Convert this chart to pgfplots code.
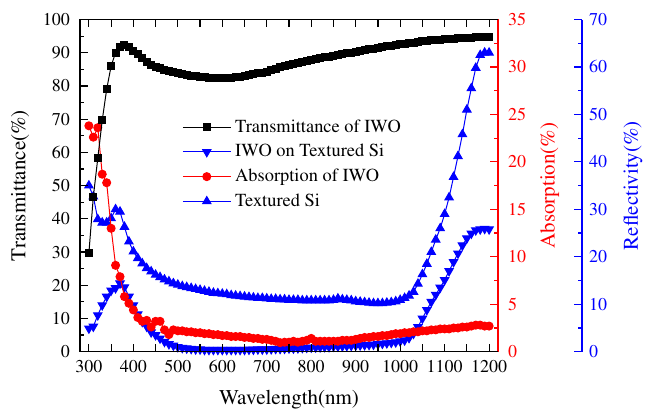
\documentclass[border=0pt]{standalone}
\usepackage[T1]{fontenc}
\usepackage{mathptmx}
\usepackage{pgfplots}
\usepackage{pgfplotstable}
\pgfplotsset{compat=1.18}

% wl: wavelength (nm), T: transmittance of IWO (%), A: absorption of IWO (%)
% Rc: reflectivity of IWO on textured Si (%), Rs: reflectivity of textured Si (%)
\pgfplotstableread{
wl    T     A     Rc    Rs
300   29.7  23.8  4.9   35.0
310   46.7  22.6  5.3   32.7
320   58.2  23.6  7.7   27.9
330   69.7  18.7  9.8   27.2
340   79.0  17.8  11.6  27.2
350   86.0  13.0  12.9  28.1
360   90.0  9.1   13.4  30.0
370   91.8  7.9   14.4  29.5
380   92.2  5.8   13.6  26.3
390   91.6  5.1   11.6  23.2
400   90.6  4.4   9.8   21.1
410   89.5  3.6   7.9   19.7
420   88.3  3.2   6.3   18.6
430   87.3  3.3   5.3   17.6
440   86.4  2.6   4.1   16.9
450   85.8  3.2   3.5   16.2
460   85.3  3.2   2.8   15.7
470   84.9  2.3   2.1   15.2
480   84.6  1.8   1.6   14.8
490   84.3  2.3   1.3   14.4
500   84.0  2.2   1.0   14.1
510   83.7  2.2   0.8   13.8
520   83.4  2.1   0.7   13.6
530   83.1  2.1   0.6   13.4
540   82.9  2.0   0.5   13.2
550   82.7  2.0   0.5   13.0
560   82.6  1.9   0.4   12.8
570   82.5  1.9   0.4   12.6
580   82.4  1.8   0.4   12.4
590   82.4  1.8   0.4   12.3
600   82.4  1.7   0.4   12.2
610   82.4  1.7   0.4   12.1
620   82.5  1.6   0.4   11.9
630   82.6  1.6   0.4   11.8
640   82.8  1.6   0.4   11.7
650   83.0  1.5   0.4   11.6
660   83.2  1.5   0.45  11.5
670   83.5  1.4   0.45  11.4
680   83.8  1.4   0.5   11.3
690   84.0  1.3   0.5   11.3
700   84.3  1.3   0.5   11.2
710   84.8  1.2   0.55  11.1
720   85.2  1.1   0.6   11.1
730   85.6  0.95  0.6   11.0
740   86.0  1.0   0.65  11.0
750   86.4  1.0   0.7   10.9
760   86.7  1.1   0.7   10.9
770   87.0  1.0   0.75  10.9
780   87.3  1.1   0.8   10.8
790   87.6  1.2   0.85  10.8
800   87.9  1.4   0.9   10.8
810   88.1  1.1   0.9   10.8
820   88.4  1.1   0.95  10.8
830   88.6  1.1   1.0   10.8
840   88.8  1.1   1.0   10.8
850   89.1  1.1   1.1   10.9
860   89.3  1.1   1.1   11.2
870   89.5  1.2   1.15  11.0
880   89.8  1.2   1.2   10.9
890   90.0  1.2   1.25  10.8
900   90.3  1.3   1.3   10.6
910   90.5  1.4   1.35  10.5
920   90.7  1.5   1.4   10.4
930   91.0  1.5   1.45  10.3
940   91.2  1.6   1.5   10.2
950   91.4  1.6   1.6   10.2
960   91.7  1.7   1.7   10.2
970   91.9  1.7   1.8   10.3
980   92.1  1.8   1.9   10.4
990   92.3  1.9   2.0   10.6
1000  92.5  1.9   2.2   10.9
1010  92.7  2.0   2.4   11.3
1020  92.9  2.0   2.9   11.8
1030  93.0  2.1   3.8   12.6
1040  93.2  2.1   5.2   14.3
1050  93.4  2.2   7.0   16.3
1060  93.5  2.2   8.8   18.5
1070  93.7  2.3   10.5  21.0
1080  93.8  2.3   12.0  23.6
1090  93.9  2.4   13.5  26.0
1100  94.0  2.4   15.1  29.0
1110  94.1  2.4   17.0  32.5
1120  94.2  2.5   18.9  36.8
1130  94.3  2.5   20.7  41.2
1140  94.4  2.6   22.4  45.8
1150  94.5  2.6   23.9  51.0
1160  94.5  2.7   24.9  55.5
1170  94.6  2.8   25.6  59.8
1180  94.6  2.8   25.8  62.5
1190  94.7  2.7   25.9  63.0
1200  94.7  2.7   25.8  63.0
}\datatable

\tikzset{lbl/.style={font=\rmfamily\fontsize{10.5}{12}\selectfont}}
\pgfplotsset{
  every axis/.append style={
    scale only axis, height=166.1pt,
    font=\rmfamily\fontsize{9}{10.8}\selectfont,
    /pgf/number format/assume math mode=true,
    /pgf/number format/1000 sep={},
    tick align=inside,
    major tick length=3.8pt, minor tick length=2pt,
    axis line style={line width=0.6pt},
    every tick/.style={line width=0.6pt},
  },
}

\begin{document}
\begin{tikzpicture}
\useasboundingbox (-40pt,-29.15pt) rectangle (283pt,175.85pt);

% reflectivity data (blue axis scale)
\begin{axis}[
    width=209pt, at={(0pt,0pt)}, anchor=south west,
    xmin=280, xmax=1220, ymin=0, ymax=70,
    hide x axis, hide y axis,
]
\addplot[blue, line width=0.5pt, mark=triangle*, mark size=2.4pt, mark options={solid}]
    table[x=wl, y=Rs] {\datatable};
\addplot[blue, line width=0.5pt, mark=triangle*, mark size=2.4pt, mark options={solid, rotate=180}]
    table[x=wl, y=Rc] {\datatable};
\end{axis}

% absorption (red axis)
\begin{axis}[
    width=209pt, at={(0pt,0pt)}, anchor=south west,
    xmin=280, xmax=1220, ymin=0, ymax=35,
    hide x axis,
    axis y line*=right,
    y axis line style={red},
    ytick={0,5,...,35}, minor y tick num=1,
    every tick/.style={red, line width=0.6pt},
    yticklabel style={red, xshift=1.5pt},
    ylabel={Absorption(\%)},
    every axis y label/.style={at={(axis description cs:1.124,0.5)}, rotate=90, anchor=center, red, lbl},
]
\addplot[red, line width=0.5pt, mark=*, mark size=2pt]
    table[x=wl, y=A] {\datatable};
\end{axis}

% transmittance (left axis)
\begin{axis}[
    width=209pt, at={(0pt,0pt)}, anchor=south west,
    xmin=280, xmax=1220, ymin=0, ymax=100,
    axis x line*=box, axis y line*=left,
    xtick={300,400,...,1200},
    extra x ticks={350,450,...,1150}, extra x tick labels={},
    ytick={0,10,...,100}, minor y tick num=1,
    yticklabel style={xshift=-1.5pt},
    xticklabel style={yshift=-1pt},
    xlabel={Wavelength(nm)}, ylabel={Transmittance(\%)},
    every axis x label/.style={at={(axis description cs:0.5,0)}, anchor=base, yshift=-26.5pt, lbl},
    every axis y label/.style={at={(axis description cs:-0.1435,0.5)}, rotate=90, anchor=center, lbl},
    legend style={draw=none, fill=none, at={(0.244,0.712)}, anchor=north west,
        font=\rmfamily\fontsize{9.2}{11}\selectfont, row sep=0.6pt, inner sep=0pt},
    legend cell align=left,
    legend image code/.code={
        \draw[mark repeat=2, mark phase=2] plot coordinates {(0cm,0cm) (0.42cm,0cm) (0.84cm,0cm)};
    },
]
\addplot[black, line width=0.5pt, mark=square*, mark size=1.75pt]
    table[x=wl, y=T] {\datatable};
\addlegendentry{Transmittance of IWO}
\addlegendimage{blue, line width=0.5pt, mark=triangle*, mark size=2.4pt, mark options={solid, rotate=180}}
\addlegendentry{IWO on Textured Si}
\addlegendimage{red, line width=0.5pt, mark=*, mark size=2pt}
\addlegendentry{Absorption of IWO}
\addlegendimage{blue, line width=0.5pt, mark=triangle*, mark size=2.4pt}
\addlegendentry{Textured Si}
\end{axis}

% reflectivity spine (offset blue axis)
\begin{axis}[
    width=10pt, at={(251pt,0pt)}, anchor=south east,
    xmin=0, xmax=1, ymin=0, ymax=70,
    hide x axis,
    axis y line*=right,
    y axis line style={blue},
    ytick={0,10,...,70}, minor y tick num=1,
    every tick/.style={blue, line width=0.6pt},
    yticklabel style={blue},
    ylabel={Reflectivity(\%)},
    every axis y label/.style={at={(axis description cs:3.55,0.5)}, rotate=90, anchor=center, blue, lbl},
]
\end{axis}
\end{tikzpicture}
\end{document}
